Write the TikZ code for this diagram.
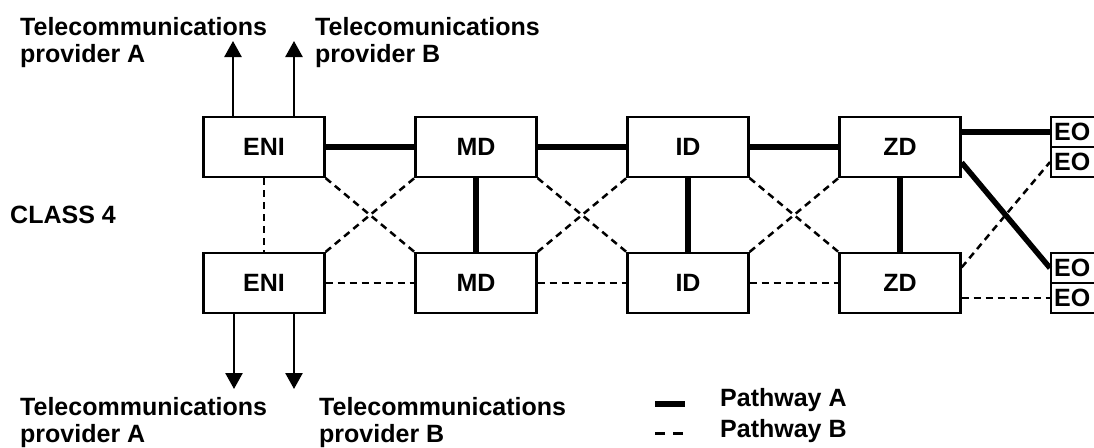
\documentclass[tikz,border=0pt]{standalone}
\usepackage{fontspec}
\setmainfont{Liberation Sans}
\usetikzlibrary{arrows.meta,calc}

\tikzset{
  every node/.style={font=\fontsize{25}{27}\selectfont\bfseries},
  box/.style={draw,line width=2.2pt,minimum width=121pt,minimum height=60pt,inner sep=0pt},
  eobox/.style={draw,line width=2.2pt,minimum height=30pt,text width=42pt,inner xsep=3pt,inner ysep=0pt,align=left,anchor=west},
  lbl/.style={inner sep=0pt,align=left},
  pathA/.style={line width=5.5pt},
  pathB/.style={line width=2.5pt,dash pattern=on 7pt off 5pt},
  feed/.style={line width=2.5pt,-{Triangle[length=16pt,width=17pt]}}
}

\begin{document}
\begin{tikzpicture}[x=1pt,y=-1pt]
  \useasboundingbox (0,0) rectangle (1094,447);
  \clip (0,0) rectangle (1094,447);

  % upper row
  \node[box] (eniT) at (264,147) {ENI};
  \node[box] (mdT)  at (476,147) {MD};
  \node[box] (idT)  at (688,147) {ID};
  \node[box] (zdT)  at (900,147) {ZD};
  % lower row
  \node[box] (eniB) at (264,283) {ENI};
  \node[box] (mdB)  at (476,283) {MD};
  \node[box] (idB)  at (688,283) {ID};
  \node[box] (zdB)  at (900,283) {ZD};

  % outlets
  \node[eobox] (eo1) at (1050,132) {EO};
  \node[eobox] (eo2) at (1050,162) {EO};
  \node[eobox] (eo3) at (1050,268) {EO};
  \node[eobox] (eo4) at (1050,298) {EO};

  % texts
  \node[lbl,anchor=north west] (provTA) at (20,17)  {Telecommunications\\provider A};
  \node[lbl,anchor=north west] (provTB) at (315,17) {Telecomunications\\provider B};
  \node[lbl,anchor=north west] (provBA) at (20,397) {Telecommunications\\provider A};
  \node[lbl,anchor=north west] (provBB) at (319,397) {Telecommunications\\provider B};
  \node[lbl,anchor=west] (cls) at (10,215) {CLASS 4};

  % provider links
  \coordinate (upA) at (233,41);
  \coordinate (upB) at (294,41);
  \coordinate (dnA) at (234,389);
  \coordinate (dnB) at (294,389);
  \draw[feed] ([xshift=-31pt]eniT.north) -- (upA);
  \draw[feed] ([xshift=30pt]eniT.north) -- (upB);
  \draw[feed] ([xshift=-30pt]eniB.south) -- (dnA);
  \draw[feed] ([xshift=30pt]eniB.south) -- (dnB);

  % pathway A
  \draw[pathA] (eniT) -- (mdT);
  \draw[pathA] (mdT) -- (idT);
  \draw[pathA] (idT) -- (zdT);
  \draw[pathA] (mdT) -- (mdB);
  \draw[pathA] (idT) -- (idB);
  \draw[pathA] (zdT) -- (zdB);
  \draw[pathA] (zdT.east |- eo1.west) -- (eo1.west);
  \draw[pathA] ($(zdT.east)!0.5!(zdT.south east)$) -- (eo3.west);

  % pathway B
  \draw[pathB] (eniT) -- (eniB);
  \draw[pathB] (eniB) -- (mdB);
  \draw[pathB] (mdB) -- (idB);
  \draw[pathB] (idB) -- (zdB);
  \foreach \a/\b in {eni/md,md/id,id/zd}{
    \draw[pathB] (\a T.south east) -- (\b B.north west);
    \draw[pathB] (\a B.north east) -- (\b T.south west);
  }
  \draw[pathB] ($(zdB.north east)!0.5!(zdB.east)$) -- (eo2.west);
  \draw[pathB] (zdB.east |- eo4.west) -- (eo4.west);

  % legend
  \coordinate (legA) at (655,404);
  \coordinate (legB) at (655,433);
  \draw[line width=6pt] (legA) -- ++(30,0);
  \draw[pathB,line width=3pt,dash pattern=on 10pt off 8pt] (legB) -- ++(30,0);
  \node[lbl,anchor=west] (keyA) at (720,400) {Pathway A};
  \node[lbl,anchor=west] (keyB) at (720,431) {Pathway B};
\end{tikzpicture}
\end{document}
